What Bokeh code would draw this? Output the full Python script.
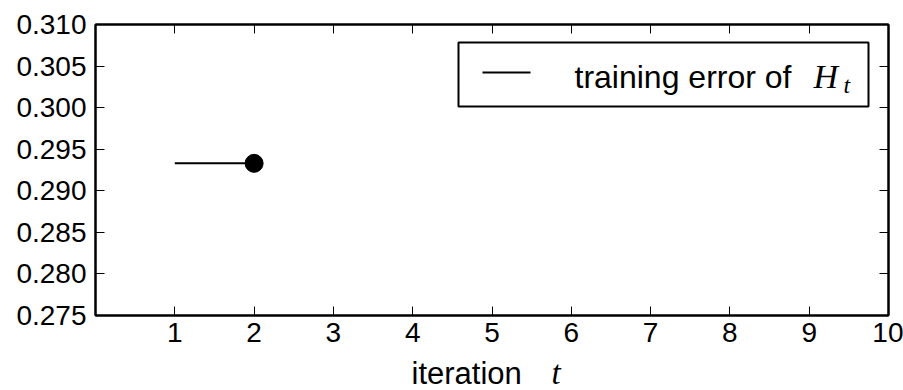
from bokeh.plotting import figure
from bokeh.layouts import column
from bokeh.models import (Range1d, FixedTicker, NumeralTickFormatter, LinearAxis,
                          BoxAnnotation)
from bokeh.core.properties import value
from bokeh.embed import file_html
from bokeh.resources import INLINE

# --- data -------------------------------------------------------------------
iterations = [1, 2]
train_error = [0.2933, 0.2933]
x_ticks = [1, 2, 3, 4, 5, 6, 7, 8, 9, 10]
y_ticks = [0.275, 0.280, 0.285, 0.290, 0.295, 0.300, 0.305, 0.310]
legend_text = "training error of"
legend_math = ("H", "t")
x_label_text = "iteration"
x_label_math = "t"

# --- layout -----------------------------------------------------------------
W = 903
H_MAIN, H_TITLE = 350, 40
FL, FR, FT, FB = 95, 888, 24, 315          # frame edges in canvas pixels
X0, X1 = 0, 10
Y0, Y1 = y_ticks[0], y_ticks[-1]

SANS = "Liberation Sans"
SERIF = "Liberation Serif"


def dx(px):
    return X0 + (px - FL) / (FR - FL) * (X1 - X0)


def dy(py):
    return Y1 - (py - FT) / (FB - FT) * (Y1 - Y0)


def lift(size_px):
    # text glyphs sit about a third of their size lower than the given y
    return 0.35 * size_px


p = figure(width=W, height=H_MAIN, output_backend="svg", toolbar_location=None,
           x_range=Range1d(X0, X1), y_range=Range1d(Y0, Y1),
           x_axis_location=None, y_axis_location=None,
           min_border_left=FL, min_border_right=W - FR,
           min_border_top=FT, min_border_bottom=H_MAIN - FB)
p.grid.visible = False
p.outline_line_color = "black"
p.outline_line_width = 2
p.background_fill_color = "white"
p.border_fill_color = "white"


def style_axis(ax, show_labels):
    ax.axis_line_color = "black"
    ax.axis_line_width = 2
    ax.major_tick_in = 9
    ax.major_tick_out = 0
    ax.major_tick_line_color = "black"
    ax.major_tick_line_width = 1
    ax.minor_tick_line_color = None
    if show_labels:
        ax.major_label_text_font = SANS
        ax.major_label_text_font_size = "28px"
        ax.major_label_text_color = "black"
    else:
        # mirrored axis: ticks only
        ax.major_label_text_font_size = "1px"
        ax.major_label_text_color = None
        ax.major_label_standoff = 0


for loc in ("below", "above"):
    ax = LinearAxis(ticker=FixedTicker(ticks=x_ticks))
    style_axis(ax, loc == "below")
    if loc == "below":
        ax.major_label_standoff = 7
    p.add_layout(ax, loc)

for loc in ("left", "right"):
    ax = LinearAxis(ticker=FixedTicker(ticks=y_ticks),
                    formatter=NumeralTickFormatter(format="0.000"))
    style_axis(ax, loc == "left")
    if loc == "left":
        ax.major_label_standoff = 9
    p.add_layout(ax, loc)

# training error curve, with a marker on the latest iteration
p.line(iterations, train_error, line_color="black", line_width=2)
p.scatter(iterations[-1:], train_error[-1:], size=18, fill_color="black",
          line_color="black")

# legend box
p.add_layout(BoxAnnotation(left=dx(458), right=dx(868), top=dy(42), bottom=dy(106),
                           fill_color="white", fill_alpha=1.0,
                           line_color="black", line_alpha=1.0, line_width=2,
                           level="annotation"))
p.line([dx(482), dx(530)], [dy(72), dy(72)], line_color="black", line_width=2,
       level="overlay")
p.text(x=[dx(574)], y=[dy(88 - lift(32))], text=[legend_text], text_font=value(SANS),
       text_font_size="32px", text_baseline="alphabetic", text_color="black",
       level="overlay")
p.text(x=[dx(813)], y=[dy(88 - lift(34))], text=[legend_math[0]], text_font=value(SERIF),
       text_font_style="italic", text_font_size="34px",
       text_baseline="alphabetic", text_color="black", level="overlay")
p.text(x=[dx(843)], y=[dy(93 - lift(24))], text=[legend_math[1]], text_font=value(SERIF),
       text_font_style="italic", text_font_size="24px",
       text_baseline="alphabetic", text_color="black", level="overlay")

# x axis title strip below the plot (same horizontal frame as the plot)
t = figure(width=W, height=H_TITLE, output_backend="svg", toolbar_location=None,
           x_range=Range1d(X0, X1), y_range=Range1d(H_TITLE, 0),
           x_axis_location=None, y_axis_location=None,
           min_border_left=FL, min_border_right=W - FR,
           min_border_top=0, min_border_bottom=0, outline_line_color=None)
t.grid.visible = False
t.background_fill_color = "white"
t.border_fill_color = "white"
base = 384 - H_MAIN
t.text(x=[dx(411)], y=[base - lift(31)], text=[x_label_text], text_font=value(SANS),
       text_font_size="31px", text_baseline="alphabetic", text_color="black")
t.text(x=[dx(551)], y=[base - lift(33)], text=[x_label_math], text_font=value(SERIF),
       text_font_style="italic", text_font_size="33px",
       text_baseline="alphabetic", text_color="black")

layout = column(p, t, spacing=0)
open("out.html", "w").write(file_html(layout, INLINE))
